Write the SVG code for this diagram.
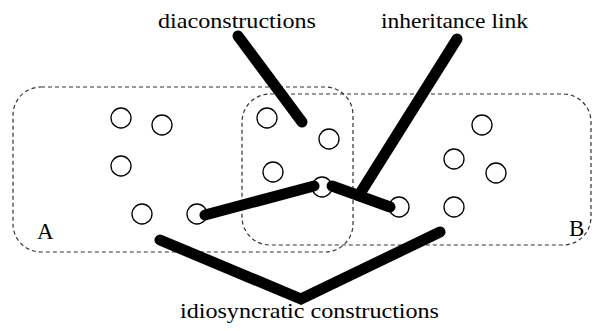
<svg xmlns="http://www.w3.org/2000/svg" width="594" height="331" viewBox="0 0 594 331">
<style>
.box{fill:none;stroke:#333;stroke-width:1.2;stroke-dasharray:4 3}
.n{fill:#fff;stroke:#000;stroke-width:1.3}
.c{fill:none;stroke:#000;stroke-width:11;stroke-linecap:round;stroke-linejoin:miter}
.t{font-family:"Liberation Serif",serif;font-size:22px;fill:#000}
.l{font-family:"Liberation Serif",serif;font-size:23px;fill:#000}
</style>
<rect width="594" height="331" fill="#fff"/>
<g id="boxA"><rect class="box" x="13" y="87" width="340" height="165" rx="28" ry="28"/><text class="l" x="37" y="239">A</text></g>
<g id="boxB"><rect class="box" x="242" y="94" width="349" height="151" rx="28" ry="28"/><text class="l" x="569" y="236">B</text></g>
<g id="nodes">
<g id="n1"><circle class="n" cx="121" cy="118" r="10"/></g>
<g id="n2"><circle class="n" cx="162" cy="125" r="10"/></g>
<g id="n3"><circle class="n" cx="121" cy="166" r="10"/></g>
<g id="n4"><circle class="n" cx="142" cy="214" r="10"/></g>
<g id="n5"><circle class="n" cx="197" cy="214" r="10"/></g>
<g id="n6"><circle class="n" cx="267" cy="118" r="10"/></g>
<g id="n7"><circle class="n" cx="329" cy="139" r="10"/></g>
<g id="n8"><circle class="n" cx="273" cy="172" r="10"/></g>
<g id="n9"><circle class="n" cx="322" cy="187" r="10"/></g>
<g id="n10"><circle class="n" cx="399" cy="207" r="10"/></g>
<g id="n11"><circle class="n" cx="482" cy="125" r="10"/></g>
<g id="n12"><circle class="n" cx="454" cy="159" r="10"/></g>
<g id="n13"><circle class="n" cx="496" cy="173" r="10"/></g>
<g id="n14"><circle class="n" cx="454" cy="207" r="10"/></g>
</g>
<g id="connectors">
<line class="c" x1="238" y1="36" x2="302" y2="122"/>
<line class="c" x1="457" y1="39" x2="361" y2="192"/>
<line class="c" x1="205" y1="215" x2="314" y2="186"/>
<line class="c" x1="332" y1="186" x2="390" y2="207"/>
<polyline class="c" points="160,240 301,299 440,232"/>
</g>
<g id="labels">
<text class="t" x="158" y="28" textLength="158" lengthAdjust="spacingAndGlyphs">diaconstructions</text>
<text class="t" x="381" y="28" textLength="147" lengthAdjust="spacingAndGlyphs">inheritance link</text>
<text class="t" x="180" y="318" textLength="259" lengthAdjust="spacingAndGlyphs">idiosyncratic constructions</text>
</g>
</svg>
